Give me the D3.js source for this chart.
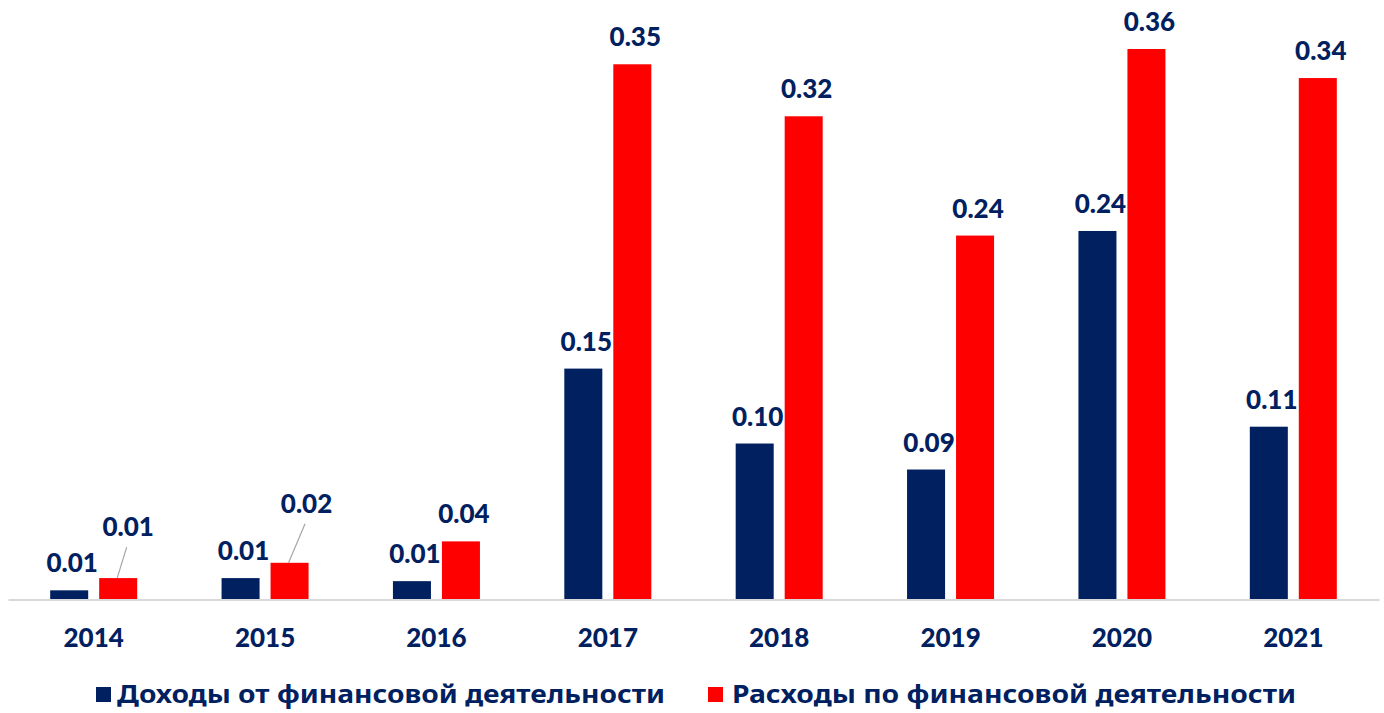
<!DOCTYPE html>
<html>
<head>
<meta charset="utf-8">
<script src="https://cdn.jsdelivr.net/npm/d3@7"></script>
<style>
  html, body { margin: 0; padding: 0; background: #fff; }
  svg { display: block; }
</style>
</head>
<body>
<script>
// Финансовая деятельность по годам
const years = ["2014", "2015", "2016", "2017", "2018", "2019", "2020", "2021"];
const income = [0.006, 0.014, 0.012, 0.151, 0.102, 0.085, 0.241, 0.113];
const expenses = [0.014, 0.024, 0.038, 0.350, 0.316, 0.238, 0.360, 0.341];
const seriesNames = ["Доходы от финансовой деятельности", "Расходы по финансовой деятельности"];
const seriesColors = ["#002060", "#FF0000"];

const W = 1384, H = 713;
const baseY = 599.5;
const labelColor = "#002060";
const numFont = "Lato, 'Noto Sans', sans-serif";

const svg = d3.select("body").append("svg").attr("width", W).attr("height", H);

const x = d3.scaleBand().domain(years).range([8, 1379]).paddingInner(0).paddingOuter(0);
const inner = d3.scaleBand().domain([0, 1]).range([0, x.bandwidth()]).paddingInner(0.224).paddingOuter(0.861);
const y = d3.scaleLinear().domain([0, 0.36]).range([baseY, baseY - 550.5]);

const series = [income, expenses];
const fmt = d3.format(".2f");

// Labels placed away from short bars, joined to them by a leader line
const nudges = { "1-0": { dx: 10, dy: -42 }, "1-1": { dx: 17, dy: -50 } };

const rows = [];
series.forEach((vals, s) => vals.forEach((v, i) => rows.push({ s, i, v, year: years[i] })));

// Bars
svg.append("g").selectAll("rect").data(rows).join("rect")
  .attr("x", d => x(d.year) + inner(d.s))
  .attr("width", inner.bandwidth())
  .attr("y", d => y(d.v))
  .attr("height", d => baseY - y(d.v))
  .attr("fill", d => seriesColors[d.s]);

// Axis line and year labels
const axis = d3.axisBottom(x).tickSize(0).tickPadding(0);
const gx = svg.append("g").attr("transform", `translate(0,${baseY})`).call(axis);
gx.select(".domain").attr("stroke", "#D9D9D9").attr("stroke-width", 2);
gx.selectAll(".tick text")
  .attr("y", 47)
  .attr("dy", 0)
  .attr("fill", labelColor)
  .style("font-family", numFont)
  .style("font-weight", 900)
  .style("font-size", "26px");

// Value labels
const lbl = svg.append("g");
rows.forEach(d => {
  const cx = x(d.year) + inner(d.s) + inner.bandwidth() / 2;
  const top = y(d.v);
  const n = nudges[d.s + "-" + d.i];
  let tx = cx + 3, ty = top - 18;
  if (n) {
    tx = cx + n.dx; ty = top + n.dy;
    lbl.append("line")
      .attr("x1", cx - 1).attr("y1", top)
      .attr("x2", tx - 1.5).attr("y2", ty + 11)
      .attr("stroke", "#A6A6A6").attr("stroke-width", 1.2);
  }
  lbl.append("text")
    .attr("x", tx).attr("y", ty)
    .attr("text-anchor", "middle")
    .attr("fill", labelColor)
    .style("font-family", numFont)
    .style("font-weight", 900)
    .style("font-size", "26px")
    .text(fmt(d.v));
});

// Legend
const legendItems = [
  { sx: 96, tx: 117, tw: 548 },
  { sx: 708, tx: 732, tw: 564 }
];
const lg = svg.append("g");
seriesNames.forEach((name, s) => {
  const it = legendItems[s];
  lg.append("rect").attr("x", it.sx).attr("y", 687).attr("width", 15).attr("height", 15)
    .attr("fill", seriesColors[s]);
  lg.append("text")
    .attr("x", it.tx).attr("y", 703)
    .attr("fill", labelColor)
    .attr("textLength", it.tw)
    .attr("lengthAdjust", "spacingAndGlyphs")
    .style("font-family", "'Noto Sans', sans-serif")
    .style("font-weight", 700)
    .style("font-size", "25px")
    .text(name);
});
</script>
</body>
</html>
